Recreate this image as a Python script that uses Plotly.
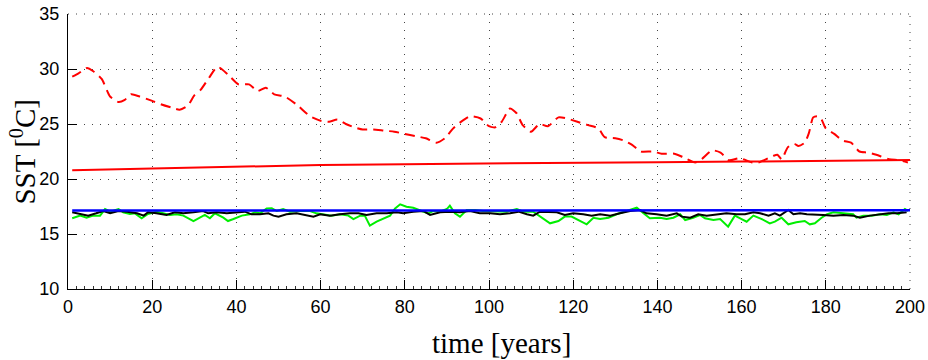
import plotly.graph_objects as go

# ---- data -------------------------------------------------------------
# dashed red: SST at the warm site (smoothed)
warm_years = [1, 2.5, 4.5, 6, 8, 10, 12, 13.5, 15, 17, 20, 22, 24.5, 26.5, 28.5,
              30, 31.5, 33.5, 35.5, 38, 40.5, 43, 45, 47, 49, 51.5, 54.5, 57.5,
              60, 62, 64, 66, 68, 70, 72.5, 75, 77.5, 80, 82.5, 85, 87.5, 89.5,
              91.5, 93, 95.5, 98, 100, 101.5, 103, 105, 106.5, 108, 110, 112,
              114, 116.5, 118.5, 121, 123.5, 126, 127.5, 130, 132, 134, 136, 139,
              141, 144, 146, 149, 150.5, 153, 155, 157, 159.5, 162.5, 164, 167.5,
              168.5, 169.5, 171, 172.5, 173.5, 175, 176, 177, 178, 179, 180, 182,
              184, 186, 188, 190, 192, 195, 197.5, 199.5]
warm_sst = [29.3, 29.6, 30.1, 29.8, 29.1, 27.5, 27.0, 27.2, 27.7, 27.5, 27.1, 26.8,
            26.5, 26.3, 26.7, 27.6, 28.1, 29.2, 30.2, 29.5, 28.6, 28.6, 28.0, 28.3,
            27.7, 27.5, 26.7, 25.7, 25.3, 25.2, 25.4, 25.0, 24.7, 24.5, 24.5, 24.4,
            24.3, 24.1, 23.9, 23.7, 23.3, 23.7, 24.6, 25.1, 25.7, 25.5, 24.8, 24.7,
            25.2, 26.4, 26.0, 24.9, 24.3, 25.0, 24.8, 25.6, 25.5, 25.2, 24.9, 24.6,
            23.8, 23.7, 23.5, 23.1, 22.5, 22.5, 22.3, 22.3, 22.0, 21.5, 21.8, 22.6,
            22.4, 21.7, 21.9, 21.5, 21.5, 22.1, 22.2, 21.8, 22.9, 23.2, 23.0, 23.3,
            24.2, 25.6, 25.7, 25.4, 24.6, 24.1, 23.5, 23.3, 22.5, 22.4, 22.2, 21.8,
            21.7, 21.5]

# solid red: warm-site trend
trend_years = [1, 20, 40, 60, 80, 100, 120, 140, 160, 180, 200]
trend_sst = [20.8, 20.97, 21.12, 21.27, 21.35, 21.43, 21.47, 21.53, 21.58, 21.65, 21.73]

# blue: reference level
ref_years = [1, 50, 100, 150, 200]
ref_sst = [17.13, 17.14, 17.15, 17.15, 17.16]

# green: cool-site SST
green_years = [1, 2.9, 4.4, 6, 7.6, 8.8, 10, 12, 13.1, 14.7, 15.9, 17.5, 19, 21,
               22.6, 24.2, 25.8, 27.4, 29.8, 31.4, 32.5, 33.7, 34.9, 36.9, 38, 39.3,
               41.3, 43.2, 44.4, 45.6, 47.2, 48.4, 49.6, 51.1, 52.7, 55.1, 57.5, 59,
               60.6, 62.6, 64.6, 66.6, 67.8, 69.4, 70.5, 71.7, 73.3, 74.9, 76.5, 77.7,
               78.9, 80.4, 82, 84, 85.6, 86.7, 88.4, 90, 90.7, 91.9, 93.1, 94.7, 96.7,
               98.6, 101, 104.2, 106.6, 108.2, 110.5, 112.1, 114.5, 116.5, 118, 119.6,
               121.6, 123.2, 124.8, 126.4, 128.4, 130.3, 132.7, 135.1, 136.7, 138.2,
               140.6, 142.2, 143.8, 145.4, 146.6, 148.5, 150.1, 151.3, 153.3, 154.9,
               156.8, 158.4, 160, 161.2, 162.8, 164.8, 166.7, 167.9, 169.5, 171.1, 173,
               175, 176.2, 177.4, 179, 180.2, 181.8, 184.2, 186.5, 187.3, 188.9, 190.9,
               192.9, 194.5, 196.1, 197.3, 198.8, 199.6]
green_sst = [16.43, 16.67, 16.48, 16.67, 16.67, 17.27, 17.03, 17.27, 16.97, 16.82,
             16.88, 16.43, 16.82, 17.03, 16.88, 16.73, 16.79, 16.67, 16.18, 16.48,
             16.73, 16.43, 16.88, 16.48, 16.18, 16.36, 16.67, 16.79, 16.97, 16.88,
             17.33, 17.35, 17.09, 17.27, 17.03, 17.09, 17.09, 16.88, 16.79, 16.67,
             16.79, 16.67, 16.36, 16.67, 16.67, 15.76, 16.12, 16.36, 16.67, 17.33,
             17.7, 17.48, 17.39, 17.09, 16.88, 17.09, 17.03, 17.27, 17.58, 16.88,
             16.58, 17.18, 17.18, 17.09, 17.09, 17.03, 17.27, 17.03, 17.03, 16.58,
             15.97, 16.18, 16.58, 16.58, 16.18, 15.88, 16.48, 16.36, 16.48, 16.79,
             17.09, 17.39, 16.88, 16.43, 16.48, 16.36, 16.48, 16.79, 16.27, 16.48,
             16.73, 16.43, 16.27, 16.36, 15.67, 16.67, 16.36, 16.12, 16.67, 16.36,
             15.97, 16.12, 16.48, 15.88, 16.06, 16.18, 15.88, 15.97, 16.48, 16.79,
             16.97, 16.88, 16.79, 16.48, 16.67, 16.67, 16.79, 16.73, 16.97, 16.79,
             17.27, 17.09]

# black: model SST
black_years = [1, 2.9, 4.8, 6.7, 8.4, 10, 12, 14, 16.4, 18, 19, 21, 23.4, 25.4,
               27.4, 29.8, 32.1, 33.3, 35.3, 37.7, 39.7, 42, 43.6, 45.6, 47.6, 48.8,
               50, 51.9, 54.3, 56.7, 58.3, 59.9, 62.2, 64.6, 67, 69, 70.9, 73.3,
               75.7, 78.1, 79.6, 82, 84.4, 86, 88.4, 90.7, 93.1, 95.5, 97.8, 100.3,
               102.6, 105, 107, 109, 110.5, 112.1, 114.5, 116.1, 118, 120, 122.4,
               124.4, 126.4, 128.8, 131.1, 133.5, 135.9, 137.4, 139.8, 142.2, 144.6,
               145.8, 147.8, 149.7, 151.7, 154.1, 156.4, 158.8, 160.8, 162.8, 164.4,
               166.4, 167.9, 169.1, 171.1, 172.3, 173.9, 175.5, 177.4, 179.4, 181.8,
               184.2, 186.5, 188.1, 190.5, 192.9, 194.9, 196.9, 199.2]
black_sst = [16.97, 16.79, 16.67, 16.88, 17.09, 16.88, 17.09, 17.03, 16.88, 16.67,
             16.97, 16.88, 16.73, 16.97, 16.88, 16.97, 17.09, 16.88, 16.97, 16.88,
             16.97, 17.03, 16.79, 16.79, 16.88, 16.67, 16.58, 16.79, 16.88, 16.73,
             16.58, 16.79, 16.67, 16.79, 16.88, 16.88, 16.73, 16.88, 16.88, 16.97,
             16.88, 17.03, 17.09, 16.73, 16.97, 17.03, 16.97, 17.09, 16.88, 16.88,
             16.79, 16.88, 17.03, 16.79, 16.67, 17.03, 17.03, 16.97, 16.73, 16.88,
             16.79, 16.67, 16.79, 16.67, 16.88, 17.09, 17.18, 16.88, 16.79, 16.67,
             16.88, 16.58, 16.48, 16.79, 16.67, 16.79, 16.88, 16.79, 16.79, 16.97,
             16.88, 16.67, 16.88, 16.67, 17.18, 16.79, 16.88, 16.79, 16.73, 16.73,
             16.67, 16.73, 16.67, 16.48, 16.67, 16.79, 16.88, 16.88, 16.97]

x_ticks = [0, 20, 40, 60, 80, 100, 120, 140, 160, 180, 200]
y_ticks = [10, 15, 20, 25, 30, 35]

# ---- figure -----------------------------------------------------------
fig = go.Figure()

fig.add_trace(go.Scatter(x=green_years, y=green_sst, mode="lines",
                         line=dict(color="#00ee00", width=2)))
fig.add_trace(go.Scatter(x=black_years, y=black_sst, mode="lines",
                         line=dict(color="black", width=2)))
fig.add_trace(go.Scatter(x=ref_years, y=ref_sst, mode="lines",
                         line=dict(color="#0000ff", width=2.5)))
fig.add_trace(go.Scatter(x=trend_years, y=trend_sst, mode="lines",
                         line=dict(color="#ff0000", width=2)))
fig.add_trace(go.Scatter(x=warm_years, y=warm_sst, mode="lines",
                         line=dict(color="#ff0000", width=2, dash="10px,6px",
                                   shape="spline", smoothing=0.6)))

GRID_COLOR = "#444444"
GRID_DASH = "1px,7px"
tick_font = dict(family="Liberation Sans, Arial, sans-serif", size=18, color="black")
grid_style = dict(showgrid=True, gridcolor=GRID_COLOR, gridwidth=1, griddash=GRID_DASH)

fig.update_xaxes(range=[0, 200], tickvals=x_ticks, ticks="inside", ticklen=9,
                 tickcolor="black", showline=True, linecolor="black", linewidth=1,
                 tickfont=tick_font, zeroline=False, ticklabelstandoff=1,
                 automargin=False,
                 minor=dict(dtick=2, ticks="inside", ticklen=3, tickcolor="#333333",
                            showgrid=False),
                 **grid_style)
fig.update_yaxes(range=[10, 35], tickvals=y_ticks, ticks="inside", ticklen=9,
                 tickcolor="black", showline=True, linecolor="black", linewidth=1,
                 tickfont=tick_font, zeroline=False, ticklabelstandoff=4,
                 automargin=False,
                 **grid_style)

# dotted grid lines along the top and right edges of the axes
fig.add_shape(type="line", xref="paper", yref="paper", x0=0, x1=1, y0=1, y1=1,
              line=dict(color=GRID_COLOR, width=1, dash=GRID_DASH), layer="below")
fig.add_shape(type="line", xref="paper", yref="paper", x0=1, x1=1, y0=0, y1=1,
              line=dict(color=GRID_COLOR, width=1, dash=GRID_DASH), layer="below")

title_font = dict(family="Liberation Serif, Times New Roman, serif", size=29,
                  color="black")
fig.add_annotation(text="time [years]", xref="paper", yref="paper",
                   x=0.515, y=-0.196, xanchor="center", yanchor="middle",
                   showarrow=False, font=title_font)
fig.add_annotation(text="SST [<sup>0</sup>C]", xref="paper", yref="paper",
                   x=-0.0546, y=0.5, xanchor="center", yanchor="middle",
                   textangle=-90, showarrow=False, font=title_font)

fig.update_layout(width=928, height=360, showlegend=False,
                  margin=dict(l=68, r=18, t=14, b=71),
                  paper_bgcolor="white", plot_bgcolor="white")

fig.write_html("out.html")
